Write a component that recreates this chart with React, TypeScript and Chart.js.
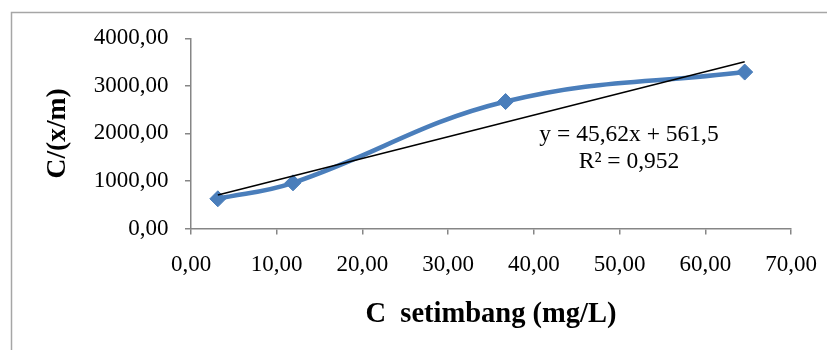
import React, { useEffect, useRef } from "react";
import { Chart, registerables } from "chart.js";

Chart.register(...registerables);

// Data
const cEquilibrium = [3.13, 11.9, 36.7, 64.6];
const cOverXm = [625, 960, 2670, 3290];
const trendSlope = 45.62;
const trendIntercept = 561.5;
const trendLabel = ["y = 45,62x + 561,5", "R² = 0,952"];
const trendLabelAt = [51.1, 1960];
const xTicks = [0, 10, 20, 30, 40, 50, 60, 70];
const yTicks = [0, 1000, 2000, 3000, 4000];
const xTitle = "C  setimbang (mg/L)";
const yTitle = "C/(x/m)";

const FONT = "'Liberation Serif', 'Times New Roman', serif";
const AXIS_GRAY = "#868686";

const fmt = (v: number) => Number(v).toFixed(2).replace(".", ",");

export default function App() {
  const ref = useRef<HTMLCanvasElement | null>(null);

  useEffect(() => {
    document.documentElement.style.overflow = "hidden";
    document.body.style.overflow = "hidden";
    const canvas = ref.current;
    if (!canvas) return;

    const points = cEquilibrium.map((x, i) => ({ x, y: cOverXm[i] }));
    const xMin = Math.min(...cEquilibrium);
    const xMax = Math.max(...cEquilibrium);
    const trend = [
      { x: xMin, y: trendSlope * xMin + trendIntercept },
      { x: xMax, y: trendSlope * xMax + trendIntercept },
    ];

    const framePlugin = {
      id: "frame",
      beforeDraw(chart: any) {
        const ctx = chart.ctx;
        ctx.save();
        ctx.fillStyle = "#ffffff";
        ctx.fillRect(0, 0, chart.width, chart.height);
        ctx.strokeStyle = "#a6a6a6";
        ctx.lineWidth = 1.5;
        ctx.strokeRect(3.5, 4.5, chart.width + 50, chart.height + 50);
        ctx.restore();
      },
    };

    const labelPlugin = {
      id: "trendLabel",
      afterDatasetsDraw(chart: any) {
        const ctx = chart.ctx;
        const x = chart.scales.x.getPixelForValue(trendLabelAt[0]);
        const y = chart.scales.y.getPixelForValue(trendLabelAt[1]);
        ctx.save();
        ctx.font = `23.5px ${FONT}`;
        ctx.fillStyle = "#000";
        ctx.textAlign = "center";
        ctx.textBaseline = "middle";
        trendLabel.forEach((t, i) => ctx.fillText(t, x, y + i * 27));
        ctx.restore();
      },
    };

    const chart = new Chart(canvas, {
      type: "scatter",
      data: {
        datasets: [
          {
            label: "trend",
            data: trend,
            showLine: true,
            borderColor: "#000000",
            borderWidth: 1.5,
            pointRadius: 0,
            tension: 0,
            order: 0,
          },
          {
            label: "C/(x/m)",
            data: points,
            showLine: true,
            borderColor: "#4A7EBB",
            backgroundColor: "#4A7EBB",
            borderWidth: 4.5,
            tension: 0.4,
            pointStyle: "rectRot",
            pointRadius: 8,
            pointBackgroundColor: "#4A7EBB",
            pointBorderColor: "#4A7EBB",
            pointBorderWidth: 1,
            order: 1,
          },
        ],
      },
      options: {
        responsive: false,
        animation: false,
        devicePixelRatio: 1,
        layout: { padding: { left: 0, right: 44, top: 29.5, bottom: 0 } },
        plugins: {
          legend: { display: false },
          tooltip: { enabled: false },
        },
        scales: {
          x: {
            type: "linear",
            min: 0,
            max: 70,
            afterBuildTicks: (s: any) => {
              s.ticks = xTicks.map((v) => ({ value: v }));
            },
            afterFit: (s: any) => {
              s.height = 121.5;
            },
            ticks: {
              autoSkip: false,
              maxRotation: 0,
              padding: 16.5,
              color: "#000",
              font: { family: FONT, size: 23 },
              callback: (v: any) => fmt(v),
            },
            grid: {
              drawOnChartArea: false,
              drawTicks: true,
              tickLength: 6,
              color: AXIS_GRAY,
              lineWidth: 1.5,
            },
            border: { color: AXIS_GRAY, width: 1.5 },
            title: {
              display: true,
              text: xTitle,
              color: "#000",
              font: { family: FONT, size: 28.5, weight: "bold" },
              padding: { top: 0, bottom: 18 },
            },
          },
          y: {
            type: "linear",
            min: 0,
            max: 4000,
            afterBuildTicks: (s: any) => {
              s.ticks = yTicks.map((v) => ({ value: v }));
            },
            afterFit: (s: any) => {
              s.width = 183;
            },
            ticks: {
              autoSkip: false,
              padding: 16.5,
              color: "#000",
              font: { family: FONT, size: 23 },
              callback: (v: any) => fmt(v),
            },
            grid: {
              drawOnChartArea: false,
              drawTicks: true,
              tickLength: 6,
              color: AXIS_GRAY,
              lineWidth: 1.5,
            },
            border: { color: AXIS_GRAY, width: 1.5 },
            title: {
              display: true,
              text: yTitle,
              color: "#000",
              font: { family: FONT, size: 27.5, weight: "bold" },
              padding: { top: 33.5, bottom: 0 },
            },
          },
        },
      },
      plugins: [framePlugin, labelPlugin],
    } as any);

    return () => chart.destroy();
  }, []);

  return (
    <div style={{ width: 827, height: 342 }}>
      <canvas ref={ref} width={827} height={342} style={{ display: "block" }} />
    </div>
  );
}
